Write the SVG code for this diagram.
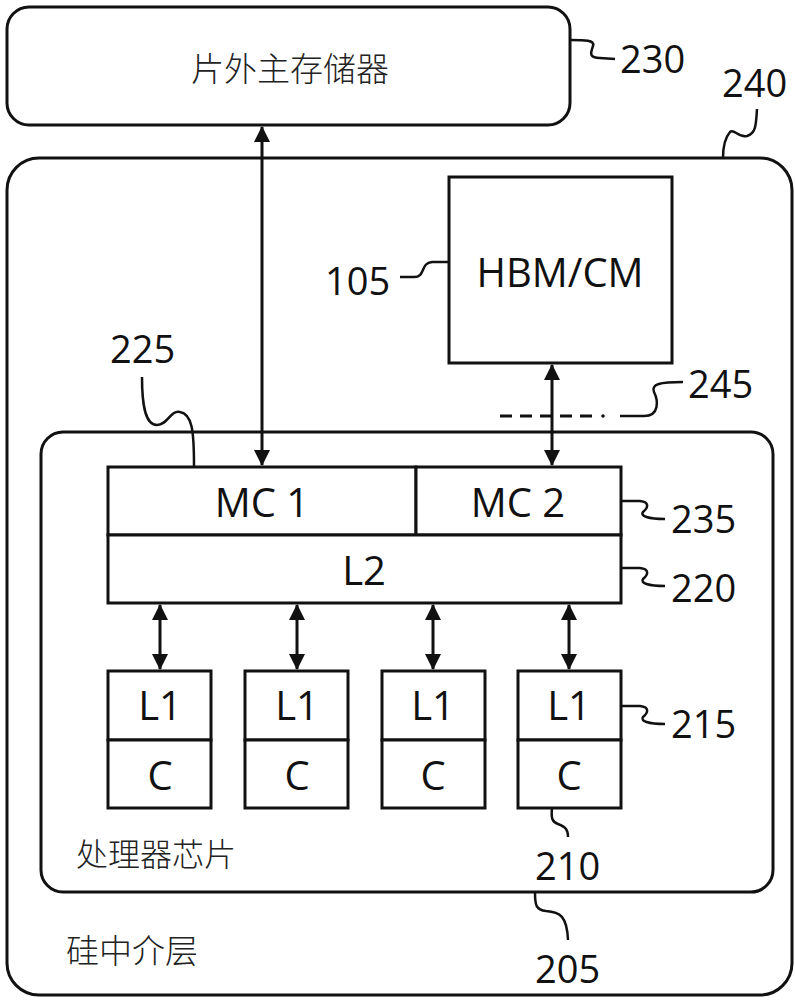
<svg xmlns="http://www.w3.org/2000/svg" width="795" height="1000" viewBox="0 0 795 1000">
  <style>
    .box { fill: #fff; stroke: #111; stroke-width: 3; }
    .frame { fill: none; stroke: #111; stroke-width: 3; }
    .lbl { font-family: "Open Sans", "Noto Sans", sans-serif; font-size: 40px; fill: #111; text-anchor: middle; }
    .num { font-family: "Open Sans", "Noto Sans", sans-serif; font-size: 38px; fill: #111; }
    .cjk { font-family: "Noto Sans CJK SC", sans-serif; font-weight: 300; fill: #222; }
    .lead { fill: none; stroke: #111; stroke-width: 2.5; }
    .arr { fill: none; stroke: #111; stroke-width: 3; marker-start: url(#ah); marker-end: url(#ah); }
    .dash { fill: none; stroke: #111; stroke-width: 3; stroke-dasharray: 12 8; }
  </style>
  <defs>
    <marker id="ah" viewBox="0 0 16 16" refX="15" refY="8" markerWidth="16" markerHeight="16" markerUnits="userSpaceOnUse" orient="auto-start-reverse">
      <path d="M0,0 L16,8 L0,16 Z" fill="#111"/>
    </marker>
  </defs>

  <rect width="795" height="1000" fill="#fff"/>

  <g id="interposer">
    <rect class="frame" x="7" y="158" width="785" height="837" rx="32" ry="32"/>
    <text class="cjk" x="66" y="963" font-size="33">硅中介层</text>
  </g>

  <g id="offchip-memory">
    <rect class="box" x="7" y="7" width="563" height="118" rx="22" ry="22"/>
    <text class="cjk" x="290" y="81" font-size="33" text-anchor="middle">片外主存储器</text>
  </g>

  <g id="hbm">
    <rect class="box" x="449" y="177" width="223" height="186"/>
    <text class="lbl" x="560" y="287">HBM/CM</text>
  </g>

  <g id="processor-chip">
    <rect class="frame" x="41" y="432" width="732" height="460" rx="22" ry="22"/>
    <text class="cjk" x="76" y="866" font-size="32">处理器芯片</text>
  </g>

  <g id="mc1">
    <rect class="box" x="108" y="467" width="308" height="68"/>
    <text class="lbl" x="262" y="517">MC 1</text>
  </g>
  <g id="mc2">
    <rect class="box" x="416" y="467" width="205" height="68"/>
    <text class="lbl" x="518" y="517">MC 2</text>
  </g>
  <g id="l2">
    <rect class="box" x="108" y="535" width="513" height="68"/>
    <text class="lbl" x="364" y="585">L2</text>
  </g>

  <g id="core1">
    <rect class="box" x="108" y="671" width="103" height="69"/>
    <rect class="box" x="108" y="740" width="103" height="68"/>
    <text class="lbl" x="160" y="720" font-size="38">L1</text>
    <text class="lbl" x="160" y="790" font-size="38">C</text>
  </g>
  <g id="core2">
    <rect class="box" x="245" y="671" width="103" height="69"/>
    <rect class="box" x="245" y="740" width="103" height="68"/>
    <text class="lbl" x="297" y="720" font-size="38">L1</text>
    <text class="lbl" x="297" y="790" font-size="38">C</text>
  </g>
  <g id="core3">
    <rect class="box" x="382" y="671" width="103" height="69"/>
    <rect class="box" x="382" y="740" width="103" height="68"/>
    <text class="lbl" x="433" y="720" font-size="38">L1</text>
    <text class="lbl" x="433" y="790" font-size="38">C</text>
  </g>
  <g id="core4">
    <rect class="box" x="518" y="671" width="103" height="69"/>
    <rect class="box" x="518" y="740" width="103" height="68"/>
    <text class="lbl" x="569" y="720" font-size="38">L1</text>
    <text class="lbl" x="569" y="790" font-size="38">C</text>
  </g>

  <g id="connectors">
    <line class="arr" x1="262" y1="127" x2="262" y2="465"/>
    <line class="arr" x1="552" y1="365" x2="552" y2="465"/>
    <line class="arr" x1="160" y1="605" x2="160" y2="669"/>
    <line class="arr" x1="297" y1="605" x2="297" y2="669"/>
    <line class="arr" x1="433" y1="605" x2="433" y2="669"/>
    <line class="arr" x1="569" y1="605" x2="569" y2="669"/>
  </g>

  <g id="tsv-245">
    <line class="dash" x1="500" y1="416" x2="597" y2="416"/>
    <circle cx="603" cy="416" r="1.8" fill="#111"/>
  </g>

  <g id="reference-labels">
    <path class="lead" d="M570,40 C585,40 595,40 593,46 C591,52 588,58 600,58 L615,59"/>
    <text class="num" x="620" y="73">230</text>
    <path class="lead" d="M757,109 C756,125 756,133 747,136 C738,138 734,128 730,132 C724,139 723,148 723,158"/>
    <text class="num" x="722" y="97">240</text>
    <path class="lead" d="M400,277 L414,277 C426,277 420,263 432,262 L449,262"/>
    <text class="num" x="325" y="295">105</text>
    <path class="lead" d="M142,377 C142,400 144,425 157,425 C168,425 170,410 180,412 C192,414 194,430 194,466"/>
    <text class="num" x="110" y="363">225</text>
    <path class="lead" d="M620,416 L644,416 C660,416 658,400 654,392 C651,384 660,382 683,382"/>
    <text class="num" x="688" y="398">245</text>
    <path class="lead" d="M621,501 L640,501 C650,502 648,508 643,512 C640,516 648,519 665,519"/>
    <text class="num" x="671" y="533">235</text>
    <path class="lead" d="M621,568 L640,568 C650,569 648,575 643,579 C640,583 648,586 665,586"/>
    <text class="num" x="671" y="602">220</text>
    <path class="lead" d="M622,706 L640,706 C650,707 648,713 643,717 C640,721 648,724 665,724"/>
    <text class="num" x="671" y="738">215</text>
    <path class="lead" d="M552,808 C551,818 552,822 558,824 C566,827 568,830 568,837"/>
    <text class="num" x="535" y="880">210</text>
    <path class="lead" d="M535,893 C535,905 536,910 546,911 C560,912 567,916 568,940"/>
    <text class="num" x="535" y="983">205</text>
  </g>
</svg>
